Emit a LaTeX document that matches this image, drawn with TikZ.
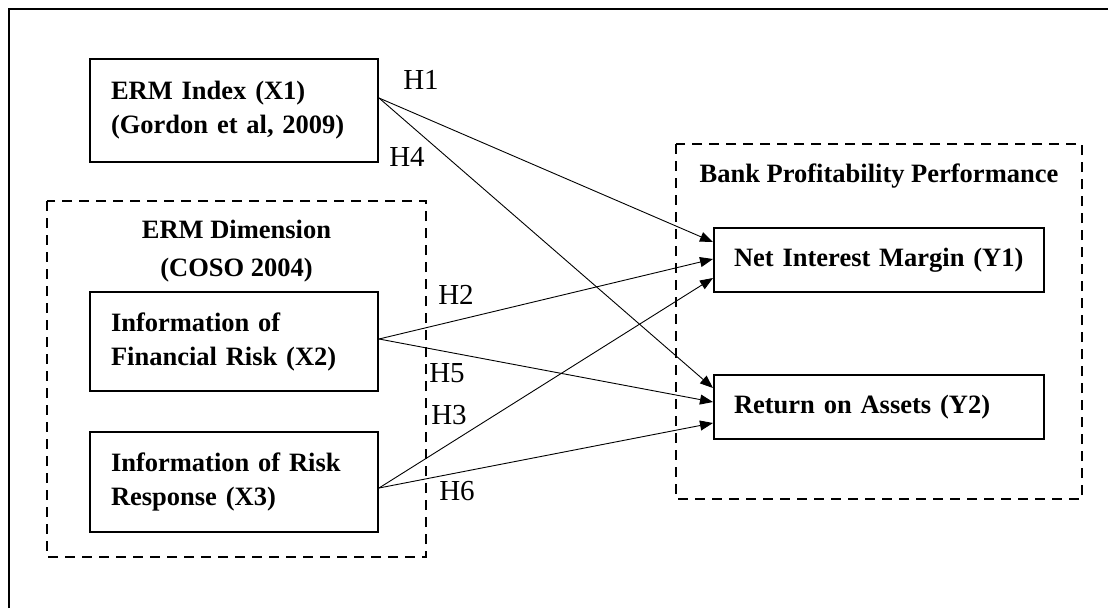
\documentclass[tikz,border=0pt]{standalone}
\usepackage{fontspec}
\setmainfont{Liberation Serif}
\usetikzlibrary{arrows.meta}
\begin{document}
\begin{tikzpicture}[x=1pt,y=-1pt,
  varbox/.style={draw,line width=2pt,inner ysep=0pt,align=left,
    font=\fontsize{26.5}{34}\selectfont\bfseries},
  xbox/.style={varbox,inner xsep=21pt,text width=246pt,minimum width=288pt},
  ybox/.style={varbox,inner xsep=20pt,text width=290pt,minimum width=330pt,minimum height=64pt},
  group/.style={draw,line width=1.6pt,dash pattern=on 10pt off 7pt},
  grouptitle/.style={inner sep=0pt,align=center,font=\fontsize{26.5}{38}\selectfont\bfseries},
  hyp/.style={inner sep=0pt,font=\fontsize{29}{34}\selectfont},
  link/.style={line width=0.9pt,-{Triangle[length=13pt,width=10pt]}}]
\useasboundingbox (0,0) rectangle (1108,608);
\draw[line width=2pt] (9,608) -- (9,9) -- (1108,9);
% groups
\draw[group] (47,201) rectangle (426,557);
\draw[group] (676,144) rectangle (1082,499);
\node[grouptitle] (dimtitle) at (236.5,251) {ERM Dimension\\(COSO 2004)};
\node[grouptitle] (banktitle) at (879,176) {Bank Profitability Performance};
% boxes
\node[xbox,minimum height=103pt] (x1) at (234,110.5) {ERM Index (X1)\\(Gordon et al, 2009)};
\node[xbox,minimum height=99pt] (x2) at (234,341.5) {Information of\\Financial Risk (X2)};
\node[xbox,minimum height=100pt] (x3) at (234,482) {Information of Risk\\Response (X3)};
\node[ybox] (y1) at (879,260) {Net Interest Margin (Y1)};
\node[ybox] (y2) at (879,407) {Return on Assets (Y2)};
% connectors
\draw[link] ([yshift=12.5pt]x1.east) -- ([yshift=18pt]y1.west);
\draw[link] ([yshift=12.5pt]x1.east) -- ([yshift=19pt]y2.west);
\draw[link] ([yshift=2.5pt]x2.east) -- ([yshift=1pt]y1.west);
\draw[link] ([yshift=2.5pt]x2.east) -- ([yshift=5pt]y2.west);
\draw[link] ([yshift=-6pt]x3.east) -- ([yshift=-18pt]y1.west);
\draw[link] ([yshift=-6pt]x3.east) -- ([yshift=-16pt]y2.west);
% labels
\node[hyp] (h1) at (421,80) {H1};
\node[hyp] (h4) at (407,157) {H4};
\node[hyp] (h2) at (456,295) {H2};
\node[hyp] (h5) at (447,373) {H5};
\node[hyp] (h3) at (449,415) {H3};
\node[hyp] (h6) at (457,491) {H6};
\end{tikzpicture}
\end{document}
